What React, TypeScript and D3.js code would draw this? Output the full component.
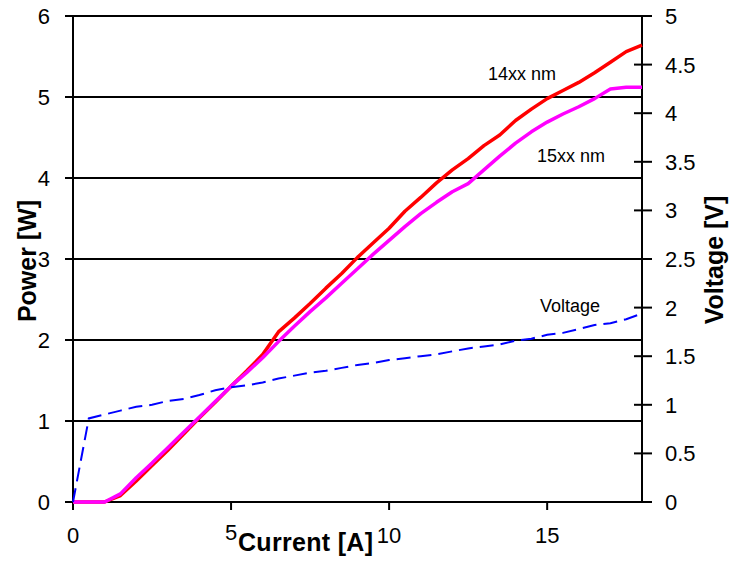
import React, { useEffect, useRef } from "react";
import * as d3 from "d3";

// current [A]
const current = [
  0, 1, 1.5, 2, 2.5, 3, 3.5, 4, 4.5, 5, 5.5, 6, 6.5, 7, 7.5, 8, 8.5, 9, 9.5, 10,
  10.5, 11, 11.5, 12, 12.5, 13, 13.5, 14, 14.5, 15, 15.5, 16, 16.5, 17, 17.5, 18,
];
// power [W], 14xx nm
const power14 = [
  0, 0, 0.08, 0.26, 0.45, 0.64, 0.84, 1.04, 1.23, 1.43, 1.62, 1.82, 2.1, 2.27,
  2.45, 2.64, 2.82, 3.02, 3.2, 3.38, 3.59, 3.76, 3.94, 4.1, 4.24, 4.4, 4.53, 4.71,
  4.85, 4.98, 5.08, 5.18, 5.3, 5.43, 5.56, 5.64,
];
// power [W], 15xx nm
const power15 = [
  0, 0, 0.1, 0.3, 0.48, 0.67, 0.86, 1.05, 1.24, 1.43, 1.6, 1.78, 1.98, 2.17, 2.35,
  2.52, 2.7, 2.88, 3.06, 3.23, 3.4, 3.56, 3.7, 3.83, 3.93, 4.1, 4.27, 4.43, 4.57,
  4.69, 4.79, 4.88, 4.98, 5.1, 5.12, 5.12,
];
// voltage [V]
const voltageI = [
  0, 0.5, 1, 1.5, 2, 2.5, 3, 3.5, 4, 4.5, 5, 5.5, 6, 6.5, 7, 7.5, 8, 8.5, 9, 9.5,
  10, 10.5, 11, 11.5, 12, 12.5, 13, 13.5, 14, 14.5, 15, 15.5, 16, 16.5, 17, 17.5, 18,
];
const voltage = [
  0, 0.86, 0.9, 0.94, 0.98, 1.0, 1.04, 1.06, 1.1, 1.15, 1.18, 1.2, 1.23, 1.27,
  1.3, 1.33, 1.35, 1.38, 1.41, 1.43, 1.46, 1.48, 1.5, 1.52, 1.55, 1.58, 1.6, 1.62,
  1.66, 1.68, 1.72, 1.74, 1.78, 1.82, 1.84, 1.88, 1.94,
];

const xTicks = [0, 5, 10, 15];
const powerTicks = [0, 1, 2, 3, 4, 5, 6];
const voltTicks = [0, 0.5, 1, 1.5, 2, 2.5, 3, 3.5, 4, 4.5, 5];

const FONT = "'Liberation Sans', Arial, sans-serif";

export default function App() {
  const svgRef = useRef<SVGSVGElement>(null);

  useEffect(() => {
    const svg = d3.select(svgRef.current);
    svg.selectAll("*").remove();

    const left = 73,
      right = 642,
      top = 16,
      bottom = 502;

    const x = d3.scaleLinear().domain([0, 18]).range([left, right]);
    const yP = d3.scaleLinear().domain([0, 6]).range([bottom, top]);
    const yV = d3.scaleLinear().domain([0, 5]).range([bottom, top]);

    // gridlines + left ticks
    svg
      .append("g")
      .selectAll("line")
      .data(powerTicks.slice(1))
      .join("line")
      .attr("x1", left - 8)
      .attr("x2", right)
      .attr("y1", (d) => yP(d))
      .attr("y2", (d) => yP(d))
      .attr("stroke", "#000")
      .attr("stroke-width", 2);

    svg
      .append("line")
      .attr("x1", left - 8)
      .attr("x2", left)
      .attr("y1", bottom)
      .attr("y2", bottom)
      .attr("stroke", "#000")
      .attr("stroke-width", 2);

    // axes lines
    const axisG = svg.append("g").attr("stroke", "#000").attr("stroke-width", 2);
    axisG.append("line").attr("x1", left).attr("x2", left).attr("y1", top - 1).attr("y2", bottom + 1);
    axisG.append("line").attr("x1", right).attr("x2", right).attr("y1", top - 1).attr("y2", bottom + 1);
    axisG.append("line").attr("x1", left).attr("x2", right).attr("y1", bottom).attr("y2", bottom);

    // x ticks
    axisG
      .selectAll(".xt")
      .data(xTicks)
      .join("line")
      .attr("x1", (d) => x(d))
      .attr("x2", (d) => x(d))
      .attr("y1", bottom)
      .attr("y2", bottom + 8);

    // right ticks (cross the axis)
    axisG
      .selectAll(".vt")
      .data(voltTicks)
      .join("line")
      .attr("x1", right - 8)
      .attr("x2", right + 10)
      .attr("y1", (d) => yV(d))
      .attr("y2", (d) => yV(d));

    // tick labels
    svg
      .append("g")
      .selectAll("text")
      .data(powerTicks)
      .join("text")
      .attr("x", 50)
      .attr("y", (d) => yP(d) + 8)
      .attr("text-anchor", "end")
      .attr("font-family", FONT)
      .attr("font-size", 22)
      .text((d) => d);

    svg
      .append("g")
      .selectAll("text")
      .data(voltTicks)
      .join("text")
      .attr("x", 665)
      .attr("y", (d) => yV(d) + 8)
      .attr("font-family", FONT)
      .attr("font-size", 22)
      .text((d) => d);

    svg
      .append("g")
      .selectAll("text")
      .data(xTicks)
      .join("text")
      .attr("x", (d) => x(d))
      .attr("y", (d) => (d === 5 ? 540 : 543))
      .attr("text-anchor", "middle")
      .attr("font-family", FONT)
      .attr("font-size", 22)
      .text((d) => d);

    // axis titles
    svg
      .append("text")
      .attr("x", 238)
      .attr("y", 551)
      .attr("font-family", FONT)
      .attr("font-weight", "bold")
      .attr("font-size", 25)
      .attr("textLength", 135)
      .text("Current [A]");

    svg
      .append("text")
      .attr("transform", "translate(36,261) rotate(-90)")
      .attr("text-anchor", "middle")
      .attr("font-family", FONT)
      .attr("font-weight", "bold")
      .attr("font-size", 25)
      .text("Power [W]");

    svg
      .append("text")
      .attr("transform", "translate(723,260) rotate(-90)")
      .attr("text-anchor", "middle")
      .attr("font-family", FONT)
      .attr("font-weight", "bold")
      .attr("font-size", 25)
      .text("Voltage [V]");

    // series
    const lineP = d3
      .line<number>()
      .x((_, i) => x(current[i]))
      .y((d) => yP(d));

    svg
      .append("path")
      .attr("d", lineP(power14))
      .attr("fill", "none")
      .attr("stroke", "#FF0000")
      .attr("stroke-width", 3.5)
      .attr("stroke-linejoin", "round");

    svg
      .append("path")
      .attr("d", lineP(power15))
      .attr("fill", "none")
      .attr("stroke", "#FF00FF")
      .attr("stroke-width", 3.5)
      .attr("stroke-linejoin", "round");

    const lineV = d3
      .line<number>()
      .x((_, i) => x(voltageI[i]))
      .y((d) => yV(d));

    svg
      .append("path")
      .attr("d", lineV(voltage))
      .attr("fill", "none")
      .attr("stroke", "#0000FF")
      .attr("stroke-width", 2)
      .attr("stroke-dasharray", "14,7");

    // annotations
    const notes = [
      { t: "14xx nm", x: 488, y: 80 },
      { t: "15xx nm", x: 537, y: 162 },
      { t: "Voltage", x: 540, y: 312 },
    ];
    svg
      .append("g")
      .selectAll("text")
      .data(notes)
      .join("text")
      .attr("x", (d) => d.x)
      .attr("y", (d) => d.y)
      .attr("font-family", FONT)
      .attr("font-size", 18)
      .text((d) => d.t);
  }, []);

  return (
    <svg
      ref={svgRef}
      width={742}
      height={562}
      style={{ position: "absolute", left: 0, top: 0, background: "#fff" }}
    ></svg>
  );
}
